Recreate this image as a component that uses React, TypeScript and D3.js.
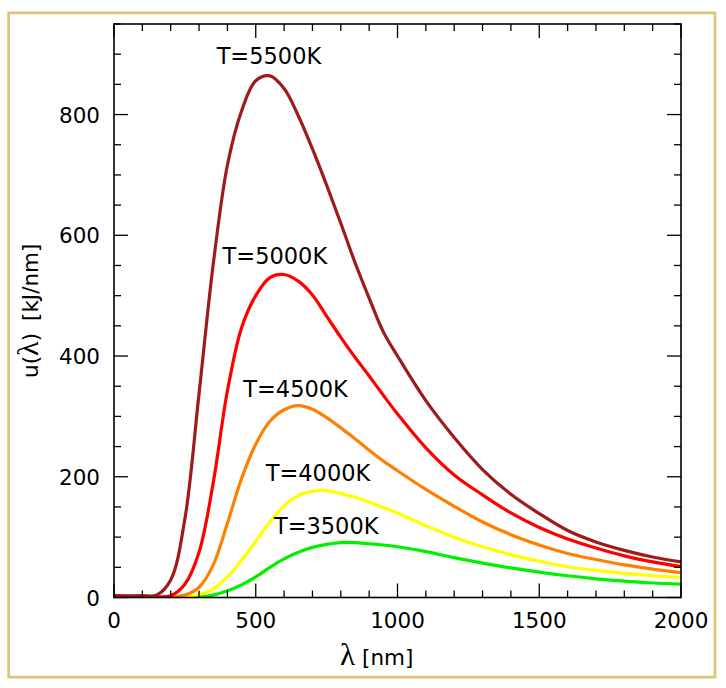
import React from "react";
import * as d3 from "d3";

// Wavelength grid [nm]
const lambdas = [0, 100, 150, 200, 250, 300, 350, 400, 450, 500, 550, 600, 650, 700, 750, 800, 850, 900, 950, 1000, 1100, 1200, 1300, 1400, 1500, 1600, 1700, 1800, 1900, 2000];

// Spectral energy density readings [kJ/nm] per temperature
const u5500 = [3, 3, 4, 29, 130, 338, 552, 716, 806, 856, 864, 843, 798, 743, 683, 620, 555, 496, 440, 400, 326, 265, 212, 171, 139, 111, 92, 78, 67, 59];
const u5000 = [1, 1, 1, 3, 22, 75, 190, 342, 447, 500, 530, 535, 524, 501, 466, 431, 398, 367, 335, 304, 248, 203, 170, 140, 116, 97, 82, 69, 59, 51];
const u4500 = [0, 0, 0, 0.5, 4, 17, 54, 123, 197, 254, 292, 311, 318, 312, 298, 281, 263, 244, 226, 210, 179, 151, 125, 104, 87, 73, 63, 54, 47, 41];
const u4000 = [0, 0, 0, 0, 1, 5, 14, 34, 62, 93, 125, 152, 169, 176, 177, 172, 166, 158, 149, 140, 119, 100, 84, 71, 60, 51, 45, 40, 36, 33];
const u3500 = [0, 0, 0, 0, 0, 1, 4, 11, 21, 34, 50, 64, 75, 83, 88, 91, 91, 89, 87, 84, 76, 66, 57, 49, 42, 36, 31, 27, 24, 22];

const seriesNames = ["T=3500K", "T=4000K", "T=4500K", "T=5000K", "T=5500K"];
const seriesValues = [u3500, u4000, u4500, u5000, u5500];
const seriesColors = ["#00f000", "#ffff00", "#ff8000", "#ff0000", "#9e1b1b"];
// label anchor (start of text, baseline) in data units: [nm, u]
const labelNm = [564, 535, 456, 383, 362];
const labelU = [105, 193, 332, 553, 884];

const xMajorTicks = [0, 500, 1000, 1500, 2000];
const yMajorTicks = [0, 200, 400, 600, 800];

const W = 726;
const H = 688;
const left = 114;
const right = 681;
const top = 24;
const bottom = 597.5;

export default function App() {
  const x = d3.scaleLinear().domain([0, 2000]).range([left, right]);
  const y = d3.scaleLinear().domain([0, 950]).range([bottom, top]);

  const xMinor = d3.range(0, 2001, 100);
  const yMinor = d3.range(0, 951, 50);

  const line = d3
    .line<number>()
    .x((_, i) => x(lambdas[i]))
    .y((d) => y(d))
    .curve(d3.curveCatmullRom.alpha(0.5));

  const font = "DejaVu Sans";
  const tickFs = 21.5;

  return (
    <div style={{ position: "absolute", left: 0, top: 0, background: "#fff" }}>
      <svg width={W} height={H} style={{ display: "block" }}>
        <rect x={0} y={0} width={W} height={H} fill="#fff" />
        <rect x={8.7} y={12.9} width={706.3} height={664.2} fill="none" stroke="#dfc57a" strokeWidth={2.8} />

        <defs>
          <clipPath id="plotclip">
            <rect x={left} y={top} width={right - left} height={bottom - top} />
          </clipPath>
        </defs>

        <g clipPath="url(#plotclip)">
          {seriesValues.map((vals, k) => (
            <path
              key={seriesNames[k]}
              d={line(vals) || ""}
              fill="none"
              stroke={seriesColors[k]}
              strokeWidth={3.2}
              strokeLinejoin="round"
            />
          ))}
        </g>

        {/* ticks */}
        <g stroke="#000" strokeWidth={1.3}>
          {xMinor.map((v) => {
            const major = v % 500 === 0;
            const len = major ? 14 : 7;
            return (
              <g key={"xt" + v}>
                <line x1={x(v)} x2={x(v)} y1={bottom} y2={bottom - len} />
                <line x1={x(v)} x2={x(v)} y1={top} y2={top + len} />
              </g>
            );
          })}
          {yMinor.map((v) => {
            const major = v % 200 === 0;
            const len = major ? 14 : 7;
            return (
              <g key={"yt" + v}>
                <line x1={left} x2={left + len} y1={y(v)} y2={y(v)} />
                <line x1={right} x2={right - len} y1={y(v)} y2={y(v)} />
              </g>
            );
          })}
        </g>

        <rect x={left} y={top} width={right - left} height={bottom - top} fill="none" stroke="#000" strokeWidth={1.6} />

        {/* tick labels */}
        <g fontFamily={font} fontSize={tickFs} fill="#000">
          {xMajorTicks.map((v) => (
            <text key={"xl" + v} x={x(v)} y={627.5} textAnchor="middle">
              {v}
            </text>
          ))}
          {yMajorTicks.map((v) => (
            <text key={"yl" + v} x={100} y={y(v) + 8} textAnchor="end">
              {v}
            </text>
          ))}
        </g>

        {/* curve labels */}
        <g fontFamily={font} fontSize={22.5} fill="#000">
          {seriesNames.map((n, k) => (
            <text key={"lab" + n} x={x(labelNm[k])} y={y(labelU[k])}>
              {n}
            </text>
          ))}
        </g>

        {/* x axis label */}
        <text x={340} y={665} fontFamily={font} fontSize={21.5} fill="#000">
          <tspan fontFamily="Liberation Serif" fontSize={31}>λ</tspan>
          <tspan dx={7}>[nm]</tspan>
        </text>

        {/* y axis label */}
        <text
          transform={`translate(38, ${(top + bottom) / 2}) rotate(-90)`}
          textAnchor="middle"
          fontFamily={font}
          fontSize={21.5}
          fill="#000"
        >
          <tspan>u(</tspan>
          <tspan fontFamily="Liberation Serif" fontSize={30}>λ</tspan>
          <tspan>)</tspan>
          <tspan dx={12}>[kJ/nm]</tspan>
        </text>
      </svg>
    </div>
  );
}
